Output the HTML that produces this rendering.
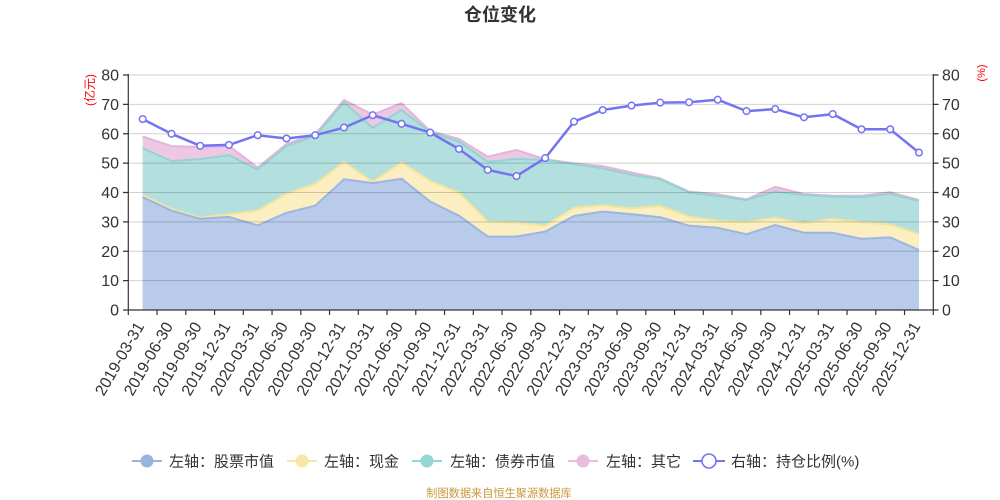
<!DOCTYPE html>
<html>
<head>
<meta charset="utf-8">
<style>
html,body{margin:0;padding:0;background:#fff;}
body{width:1000px;height:500px;overflow:hidden;}
svg{display:block;font-family:"Liberation Sans","Noto Sans CJK SC",sans-serif;}
</style>
</head>
<body>
<svg width="1000" height="500" viewBox="0 0 1000 500" xmlns="http://www.w3.org/2000/svg">
<rect width="1000" height="500" fill="#fff"/>
<!-- title -->
<text x="500" y="21" text-anchor="middle" font-size="18" font-weight="bold" fill="#333">仓位变化</text>

<!-- areas -->
<polygon fill="#ecc8e2" points="142.7,136.4 171.5,146.1 200.2,147.0 229.0,146.1 257.7,167.5 286.5,144.0 315.2,134.3 344.0,100.0 372.7,114.7 401.5,103.2 430.2,131.1 459.0,139.0 487.7,156.7 516.5,149.9 545.2,159.3 574.0,163.4 602.7,166.1 631.5,172.5 660.2,178.4 689.0,191.6 717.7,194.3 746.5,199.3 775.2,186.9 804.0,194.0 832.7,195.7 861.5,195.7 890.2,192.2 919.0,200.1 919.0,310 142.7,310"/>
<polygon fill="#b3e0df" points="142.7,148.1 171.5,161.1 200.2,159.0 229.0,155.2 257.7,169.6 286.5,146.1 315.2,136.1 344.0,102.6 372.7,127.9 401.5,110.0 430.2,132.0 459.0,141.7 487.7,161.7 516.5,159.0 545.2,159.9 574.0,164.3 602.7,168.4 631.5,174.9 660.2,179.3 689.0,192.5 717.7,196.0 746.5,200.1 775.2,191.6 804.0,195.1 832.7,196.6 861.5,197.2 890.2,194.0 919.0,201.0 919.0,310 142.7,310"/>
<polygon fill="#fbeec0" points="142.7,195.1 171.5,209.0 200.2,217.8 229.0,214.2 257.7,210.7 286.5,193.7 315.2,184.0 344.0,162.0 372.7,181.9 401.5,162.5 430.2,180.8 459.0,192.8 487.7,221.6 516.5,222.8 545.2,225.7 574.0,207.8 602.7,205.4 631.5,208.4 660.2,206.0 689.0,216.6 717.7,220.7 746.5,222.2 775.2,217.8 804.0,223.3 832.7,218.9 861.5,222.2 890.2,224.5 919.0,234.2 919.0,310 142.7,310"/>
<polygon fill="#b8cbea" points="142.7,197.2 171.5,210.7 200.2,218.9 229.0,216.9 257.7,225.4 286.5,212.8 315.2,205.7 344.0,179.3 372.7,183.1 401.5,178.7 430.2,201.6 459.0,215.7 487.7,236.6 516.5,236.6 545.2,231.6 574.0,216.0 602.7,211.6 631.5,214.2 660.2,217.2 689.0,225.7 717.7,227.8 746.5,234.2 775.2,225.1 804.0,232.7 832.7,232.7 861.5,238.9 890.2,237.4 919.0,250.1 919.0,310 142.7,310"/>

<!-- area edge lines -->
<g fill="none" stroke-width="2" stroke-linejoin="round">
<polyline stroke="#e4b4d9" points="142.7,136.4 171.5,146.1 200.2,147.0 229.0,146.1 257.7,167.5 286.5,144.0 315.2,134.3 344.0,100.0 372.7,114.7 401.5,103.2 430.2,131.1 459.0,139.0 487.7,156.7 516.5,149.9 545.2,159.3 574.0,163.4 602.7,166.1 631.5,172.5 660.2,178.4 689.0,191.6 717.7,194.3 746.5,199.3 775.2,186.9 804.0,194.0 832.7,195.7 861.5,195.7 890.2,192.2 919.0,200.1"/>
<polyline stroke="#92d4d3" points="142.7,148.1 171.5,161.1 200.2,159.0 229.0,155.2 257.7,169.6 286.5,146.1 315.2,136.1 344.0,102.6 372.7,127.9 401.5,110.0 430.2,132.0 459.0,141.7 487.7,161.7 516.5,159.0 545.2,159.9 574.0,164.3 602.7,168.4 631.5,174.9 660.2,179.3 689.0,192.5 717.7,196.0 746.5,200.1 775.2,191.6 804.0,195.1 832.7,196.6 861.5,197.2 890.2,194.0 919.0,201.0"/>
<polyline stroke="#f6e39c" points="142.7,195.1 171.5,209.0 200.2,217.8 229.0,214.2 257.7,210.7 286.5,193.7 315.2,184.0 344.0,162.0 372.7,181.9 401.5,162.5 430.2,180.8 459.0,192.8 487.7,221.6 516.5,222.8 545.2,225.7 574.0,207.8 602.7,205.4 631.5,208.4 660.2,206.0 689.0,216.6 717.7,220.7 746.5,222.2 775.2,217.8 804.0,223.3 832.7,218.9 861.5,222.2 890.2,224.5 919.0,234.2"/>
<polyline stroke="#9cb5e2" points="142.7,197.2 171.5,210.7 200.2,218.9 229.0,216.9 257.7,225.4 286.5,212.8 315.2,205.7 344.0,179.3 372.7,183.1 401.5,178.7 430.2,201.6 459.0,215.7 487.7,236.6 516.5,236.6 545.2,231.6 574.0,216.0 602.7,211.6 631.5,214.2 660.2,217.2 689.0,225.7 717.7,227.8 746.5,234.2 775.2,225.1 804.0,232.7 832.7,232.7 861.5,238.9 890.2,237.4 919.0,250.1"/>
</g>

<!-- grid lines -->
<g stroke="#000" stroke-opacity="0.18" stroke-width="1">
<line x1="128.3" y1="75" x2="933.3" y2="75"/>
<line x1="128.3" y1="104.4" x2="933.3" y2="104.4"/>
<line x1="128.3" y1="133.75" x2="933.3" y2="133.75"/>
<line x1="128.3" y1="163.1" x2="933.3" y2="163.1"/>
<line x1="128.3" y1="192.5" x2="933.3" y2="192.5"/>
<line x1="128.3" y1="221.9" x2="933.3" y2="221.9"/>
<line x1="128.3" y1="251.25" x2="933.3" y2="251.25"/>
<line x1="128.3" y1="280.6" x2="933.3" y2="280.6"/>
</g>

<!-- axes -->
<g stroke="#333" stroke-width="1.2" fill="none">
<line x1="128.3" y1="74" x2="128.3" y2="310.5"/>
<line x1="933.3" y1="74" x2="933.3" y2="310.5"/>
<line x1="123" y1="310" x2="938.5" y2="310"/>
<path d="M123 75H128.3M123 104.4H128.3M123 133.75H128.3M123 163.1H128.3M123 192.5H128.3M123 221.9H128.3M123 251.25H128.3M123 280.6H128.3"/>
<path d="M933.3 75H938.5M933.3 104.4H938.5M933.3 133.75H938.5M933.3 163.1H938.5M933.3 192.5H938.5M933.3 221.9H938.5M933.3 251.25H938.5M933.3 280.6H938.5"/>
<path d="M128.3 310V315M157.05 310V315M185.8 310V315M214.55 310V315M243.3 310V315M272.05 310V315M300.8 310V315M329.55 310V315M358.3 310V315M387.05 310V315M415.8 310V315M444.55 310V315M473.3 310V315M502.05 310V315M530.8 310V315M559.55 310V315M588.3 310V315M617.05 310V315M645.8 310V315M674.55 310V315M703.3 310V315M732.05 310V315M760.8 310V315M789.55 310V315M818.3 310V315M847.05 310V315M875.8 310V315M904.55 310V315M933.3 310V315"/>
</g>

<!-- line series -->
<polyline fill="none" stroke="#7474f2" stroke-width="2.5" stroke-linejoin="round" points="142.7,119.1 171.5,133.8 200.2,145.8 229.0,144.9 257.7,135.2 286.5,138.5 315.2,135.2 344.0,127.6 372.7,115.2 401.5,123.8 430.2,132.6 459.0,149.0 487.7,169.9 516.5,176.1 545.2,158.1 574.0,121.7 602.7,110.0 631.5,105.6 660.2,102.6 689.0,102.3 717.7,99.7 746.5,111.1 775.2,109.1 804.0,117.3 832.7,114.1 861.5,129.3 890.2,129.3 919.0,152.6"/>
<g fill="#fff" stroke="#7474f2" stroke-width="1.5">
<circle cx="142.7" cy="119.1" r="3.3"/><circle cx="171.5" cy="133.8" r="3.3"/><circle cx="200.2" cy="145.8" r="3.3"/><circle cx="229.0" cy="144.9" r="3.3"/><circle cx="257.7" cy="135.2" r="3.3"/><circle cx="286.5" cy="138.5" r="3.3"/><circle cx="315.2" cy="135.2" r="3.3"/><circle cx="344.0" cy="127.6" r="3.3"/><circle cx="372.7" cy="115.2" r="3.3"/><circle cx="401.5" cy="123.8" r="3.3"/><circle cx="430.2" cy="132.6" r="3.3"/><circle cx="459.0" cy="149.0" r="3.3"/><circle cx="487.7" cy="169.9" r="3.3"/><circle cx="516.5" cy="176.1" r="3.3"/><circle cx="545.2" cy="158.1" r="3.3"/><circle cx="574.0" cy="121.7" r="3.3"/><circle cx="602.7" cy="110.0" r="3.3"/><circle cx="631.5" cy="105.6" r="3.3"/><circle cx="660.2" cy="102.6" r="3.3"/><circle cx="689.0" cy="102.3" r="3.3"/><circle cx="717.7" cy="99.7" r="3.3"/><circle cx="746.5" cy="111.1" r="3.3"/><circle cx="775.2" cy="109.1" r="3.3"/><circle cx="804.0" cy="117.3" r="3.3"/><circle cx="832.7" cy="114.1" r="3.3"/><circle cx="861.5" cy="129.3" r="3.3"/><circle cx="890.2" cy="129.3" r="3.3"/><circle cx="919.0" cy="152.6" r="3.3"/>
</g>

<!-- y labels -->
<g font-size="16" fill="#333" text-anchor="end">
<text x="119" y="80.5">80</text><text x="119" y="109.9">70</text><text x="119" y="139.25">60</text><text x="119" y="168.6">50</text><text x="119" y="198">40</text><text x="119" y="227.4">30</text><text x="119" y="256.75">20</text><text x="119" y="286.1">10</text><text x="119" y="315.5">0</text>
</g>
<g font-size="16" fill="#333" text-anchor="start">
<text x="942" y="80.5">80</text><text x="942" y="109.9">70</text><text x="942" y="139.25">60</text><text x="942" y="168.6">50</text><text x="942" y="198">40</text><text x="942" y="227.4">30</text><text x="942" y="256.75">20</text><text x="942" y="286.1">10</text><text x="942" y="315.5">0</text>
</g>
<text x="90" y="90" font-size="12" fill="#f00" text-anchor="middle" dominant-baseline="central" transform="rotate(-90 90 90)">(亿元)</text>
<text x="982" y="73" font-size="11" fill="#f00" text-anchor="middle" dominant-baseline="central" transform="rotate(-90 982 73)">(%)</text>

<!-- x labels -->
<g font-size="16" fill="#333" text-anchor="end">
<text x="144.7" y="326" transform="rotate(-60 144.7 326)">2019-03-31</text>
<text x="173.5" y="326" transform="rotate(-60 173.5 326)">2019-06-30</text>
<text x="202.2" y="326" transform="rotate(-60 202.2 326)">2019-09-30</text>
<text x="231.0" y="326" transform="rotate(-60 231.0 326)">2019-12-31</text>
<text x="259.7" y="326" transform="rotate(-60 259.7 326)">2020-03-31</text>
<text x="288.5" y="326" transform="rotate(-60 288.5 326)">2020-06-30</text>
<text x="317.2" y="326" transform="rotate(-60 317.2 326)">2020-09-30</text>
<text x="346.0" y="326" transform="rotate(-60 346.0 326)">2020-12-31</text>
<text x="374.7" y="326" transform="rotate(-60 374.7 326)">2021-03-31</text>
<text x="403.5" y="326" transform="rotate(-60 403.5 326)">2021-06-30</text>
<text x="432.2" y="326" transform="rotate(-60 432.2 326)">2021-09-30</text>
<text x="461.0" y="326" transform="rotate(-60 461.0 326)">2021-12-31</text>
<text x="489.7" y="326" transform="rotate(-60 489.7 326)">2022-03-31</text>
<text x="518.5" y="326" transform="rotate(-60 518.5 326)">2022-06-30</text>
<text x="547.2" y="326" transform="rotate(-60 547.2 326)">2022-09-30</text>
<text x="576.0" y="326" transform="rotate(-60 576.0 326)">2022-12-31</text>
<text x="604.7" y="326" transform="rotate(-60 604.7 326)">2023-03-31</text>
<text x="633.5" y="326" transform="rotate(-60 633.5 326)">2023-06-30</text>
<text x="662.2" y="326" transform="rotate(-60 662.2 326)">2023-09-30</text>
<text x="691.0" y="326" transform="rotate(-60 691.0 326)">2023-12-31</text>
<text x="719.7" y="326" transform="rotate(-60 719.7 326)">2024-03-31</text>
<text x="748.5" y="326" transform="rotate(-60 748.5 326)">2024-06-30</text>
<text x="777.2" y="326" transform="rotate(-60 777.2 326)">2024-09-30</text>
<text x="806.0" y="326" transform="rotate(-60 806.0 326)">2024-12-31</text>
<text x="834.7" y="326" transform="rotate(-60 834.7 326)">2025-03-31</text>
<text x="863.5" y="326" transform="rotate(-60 863.5 326)">2025-06-30</text>
<text x="892.2" y="326" transform="rotate(-60 892.2 326)">2025-09-30</text>
<text x="921.0" y="326" transform="rotate(-60 921.0 326)">2025-12-31</text>
</g>

<!-- legend -->
<g stroke-width="2">
<line x1="132" y1="461" x2="162" y2="461" stroke="#9ab4e2"/>
<circle cx="147" cy="461" r="6.5" fill="#9ab4e2" stroke="none"/>
<line x1="287" y1="461" x2="317" y2="461" stroke="#f8e6a6"/>
<circle cx="302" cy="461" r="6.5" fill="#f8e6a6" stroke="none"/>
<line x1="412" y1="461" x2="442" y2="461" stroke="#95d5d5"/>
<circle cx="427" cy="461" r="6.5" fill="#95d5d5" stroke="none"/>
<line x1="568" y1="461" x2="598" y2="461" stroke="#e8bcdc"/>
<circle cx="583" cy="461" r="6.5" fill="#e8bcdc" stroke="none"/>
<line x1="693" y1="461" x2="725" y2="461" stroke="#7474f2"/>
<circle cx="709" cy="461" r="7" fill="#fff" stroke="#7474f2" stroke-width="1.6"/>
</g>
<g font-size="15" fill="#333">
<text x="169" y="466.5">左轴：股票市值</text>
<text x="324" y="466.5">左轴：现金</text>
<text x="450" y="466.5">左轴：债券市值</text>
<text x="606" y="466.5">左轴：其它</text>
<text x="731" y="466.5">右轴：持仓比例(%)</text>
</g>

<!-- footer -->
<text x="499" y="497" text-anchor="middle" font-size="11.2" fill="#c9973a">制图数据来自恒生聚源数据库</text>
</svg>
</body>
</html>
